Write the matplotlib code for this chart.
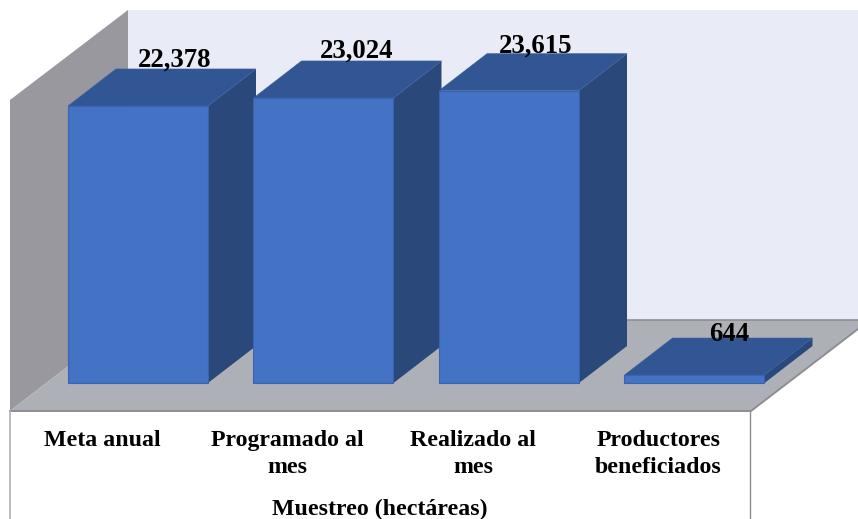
import matplotlib
matplotlib.use("Agg")
import matplotlib.pyplot as plt
from matplotlib.patches import Polygon
from matplotlib.transforms import Affine2D

# data
categories = ["Meta anual", "Programado al\nmes", "Realizado al\nmes", "Productores\nbeneficiados"]
values = [22378, 23024, 23615, 644]
value_labels = ["22,378", "23,024", "23,615", "644"]
axis_title = "Muestreo (hectáreas)"

W, H = 858, 519
plt.rcParams["font.family"] = ["Liberation Serif", "DejaVu Serif"]

fig = plt.figure(figsize=(W / 100, H / 100), dpi=100)
ax = fig.add_axes([0, 0, 1, 1])
ax.axis("off")

# scale of the value axis, in pixels of the picture
x0, x_step = 138.0, 185.5
y0, y_scale = 383.0, 0.01238
ax.set_xlim((0 - x0) / x_step, (W - x0) / x_step)
ax.set_ylim((y0 - H) / y_scale, y0 / y_scale)

# 3d offset of the bars, in data units
depth_x = 48 / x_step
depth_y = 37 / y_scale
bar_w = 140 / x_step

# room: walls and floor are drawn in picture pixels
px = Affine2D().scale(1 / W, -1 / H).translate(0, 1) + ax.transAxes
edge = "#8e8e90"
ax.add_patch(Polygon([(128, 10), (858, 10), (858, 320), (128, 320)], closed=True,
                     fc="#e9ebf6", ec="none", transform=px, zorder=1))
ax.add_patch(Polygon([(10, 100), (128, 10), (128, 320), (10, 411)], closed=True,
                     fc="#98989e", ec="none", transform=px, zorder=1))
ax.add_patch(Polygon([(128, 320), (858, 320), (858, 329), (751, 411), (10, 411)], closed=True,
                     fc="#aeb0b7", ec="none", transform=px, zorder=1))
ax.plot([128, 858], [320, 320], color=edge, lw=1.2, transform=px, zorder=2)
ax.plot([10, 751, 858], [411, 411, 329], color=edge, lw=1.4, transform=px, zorder=2)
ax.plot([10, 10], [411, 519], color="#b0b0b0", lw=1.2, transform=px, zorder=2)
ax.plot([750, 750], [411, 519], color=edge, lw=1.0, transform=px, zorder=2)

# bars, left to right so the next one covers the side of the previous one
for i, v in enumerate(values):
    z = 3 + i
    l, r = i - bar_w / 2, i + bar_w / 2
    ax.add_patch(Polygon([(r, 0), (r + depth_x, depth_y), (r + depth_x, v + depth_y), (r, v)],
                         closed=True, fc="#2a4879", ec="none", zorder=z))
    ax.add_patch(Polygon([(l, v), (l + depth_x, v + depth_y), (r + depth_x, v + depth_y), (r, v)],
                         closed=True, fc="#325694", ec="#38609f", lw=0.4, zorder=z))
    ax.bar(i, v, width=bar_w, color="#4472c4", edgecolor="#3a64ad", linewidth=0.8, zorder=z + 0.5)

# value labels, sitting on the back edge of each top
label_dx = [36.5, 33, 26.5, 35]
label_dy = [2, 3, 1, -3]
for i, v in enumerate(values):
    ax.annotate(value_labels[i], xy=(i, v + depth_y), xytext=(label_dx[i], label_dy[i]),
                textcoords="offset pixels", ha="center", va="baseline",
                fontsize=19.3, fontweight="bold", color="black", zorder=20)

# category labels, shifted left of the bars like in the original
for i, name in enumerate(categories):
    ax.annotate(name, xy=(i, 0), xytext=(-36, -47), textcoords="offset pixels",
                ha="center", va="top", multialignment="center",
                fontsize=17.2, fontweight="bold", color="black", linespacing=1.35, zorder=20)

ax.text(380, 515, axis_title, transform=px, ha="center", va="baseline",
        fontsize=17.2, fontweight="bold", color="black", zorder=20)

fig.savefig("out.png", dpi=100)
